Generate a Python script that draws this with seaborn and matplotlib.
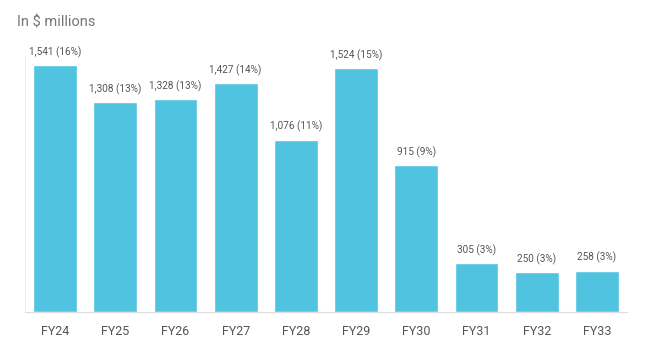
import pandas as pd
import seaborn as sns
import matplotlib.pyplot as plt

# Data
years = ['FY24', 'FY25', 'FY26', 'FY27', 'FY28', 'FY29', 'FY30', 'FY31', 'FY32', 'FY33']
values = [1541, 1308, 1328, 1427, 1076, 1524, 915, 305, 250, 258]
shares = [16, 13, 13, 14, 11, 15, 9, 3, 3, 3]

df = pd.DataFrame({'year': years, 'value': values, 'share': shares})

sns.set_style('white')
plt.rcParams['font.family'] = ['Roboto', 'DejaVu Sans']

fig = plt.figure(figsize=(6.47, 3.51), dpi=100)
ax = fig.add_axes([0.0386, 0.111, 0.9305, 0.729])

sns.barplot(data=df, x='year', y='value', color='#50c3e1', saturation=1, width=0.73, ax=ax)

for i, row in df.iterrows():
    ax.text(i, row['value'] + 45, f"{row['value']:,} ({row['share']}%)",
            ha='center', va='bottom', fontsize=7.2, color='#555555')

ax.set_xlim(-0.5, 9.5)
ax.set_ylim(0, 1597)
ax.set_yticks([])
ax.set_xlabel('')
ax.set_ylabel('')
ax.tick_params(axis='x', length=0, pad=9, labelsize=9, labelcolor='#555555')
for s in ['top', 'right']:
    ax.spines[s].set_visible(False)
ax.spines['left'].set_color('#eeeeee')
ax.spines['bottom'].set_color('#dddddd')
ax.spines['left'].set_linewidth(0.8)
ax.spines['bottom'].set_linewidth(0.8)

fig.text(17 / 647, 1 - 22 / 351, 'In $ millions', fontsize=10.5, color='#777777', va='center', ha='left')

plt.savefig('out.png', dpi=100)
plt.close()
